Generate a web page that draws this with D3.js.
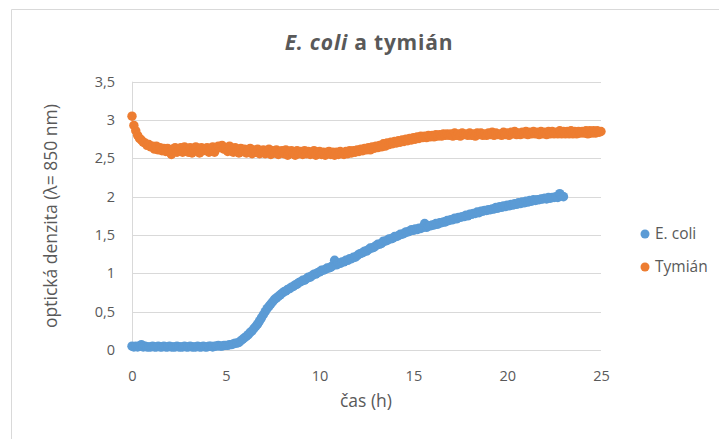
<!DOCTYPE html>
<html><head><meta charset="utf-8">
<script src="https://cdn.jsdelivr.net/npm/d3@7"></script>
<style>body{margin:0;background:#fff}svg{display:block}</style>
</head><body>
<script>
// ---- data ----
const title = ["E. coli", " a tymián"];
const xLabel = "čas (h)";
const yLabel = "optická denzita (λ= 850 nm)";
const xTicks = [0, 5, 10, 15, 20, 25];
const yTicks = [0, 0.5, 1, 1.5, 2, 2.5, 3, 3.5];
const seriesNames = ["E. coli", "Tymián"];
const sampleStep = 0.1; // hours between measurements
const ecoli = [
 0.05,0.04,0.05,0.04,0.05,0.07,0.04,0.05,0.04,0.04,
 0.04,0.05,0.04,0.04,0.05,0.04,0.04,0.05,0.04,0.04,
 0.05,0.04,0.04,0.04,0.05,0.04,0.04,0.04,0.05,0.04,
 0.04,0.05,0.04,0.04,0.04,0.05,0.04,0.04,0.05,0.04,
 0.04,0.05,0.05,0.04,0.05,0.05,0.06,0.05,0.05,0.06,
 0.06,0.06,0.07,0.07,0.08,0.09,0.09,0.10,0.12,0.14,
 0.16,0.18,0.20,0.23,0.25,0.28,0.31,0.34,0.38,0.42,
 0.46,0.50,0.54,0.57,0.60,0.63,0.66,0.68,0.70,0.72,
 0.74,0.76,0.77,0.79,0.80,0.82,0.83,0.85,0.86,0.88,
 0.89,0.91,0.91,0.93,0.95,0.95,0.97,0.99,0.99,1.01,
 1.02,1.04,1.04,1.05,1.07,1.07,1.08,1.10,1.17,1.11,
 1.13,1.13,1.15,1.15,1.17,1.17,1.19,1.19,1.21,1.21,
 1.23,1.25,1.26,1.27,1.29,1.29,1.31,1.33,1.33,1.34,
 1.36,1.38,1.38,1.39,1.42,1.42,1.43,1.45,1.45,1.46,
 1.48,1.48,1.49,1.51,1.51,1.52,1.54,1.54,1.55,1.57,
 1.56,1.58,1.57,1.59,1.585,1.60,1.65,1.60,1.62,1.62,
 1.63,1.63,1.65,1.64,1.66,1.66,1.67,1.67,1.69,1.69,
 1.70,1.70,1.72,1.71,1.73,1.73,1.74,1.74,1.76,1.75,
 1.77,1.77,1.78,1.78,1.80,1.79,1.81,1.81,1.82,1.82,
 1.83,1.83,1.84,1.84,1.86,1.85,1.87,1.86,1.88,1.87,
 1.89,1.88,1.90,1.89,1.91,1.90,1.92,1.91,1.93,1.92,
 1.94,1.93,1.95,1.94,1.96,1.95,1.96,1.96,1.97,1.97,
 1.98,1.97,1.99,1.98,1.99,1.99,2.00,1.99,2.04,2.01,
 2.00
];
const tymian = [
 3.05,2.93,2.86,2.80,2.76,2.74,2.71,2.70,2.67,2.68,
 2.65,2.66,2.62,2.66,2.61,2.64,2.60,2.63,2.59,2.63,
 2.58,2.55,2.62,2.64,2.58,2.61,2.64,2.58,2.65,2.60,
 2.58,2.64,2.57,2.62,2.65,2.59,2.57,2.64,2.60,2.62,
 2.64,2.58,2.62,2.65,2.58,2.63,2.66,2.64,2.67,2.62,
 2.64,2.59,2.66,2.60,2.58,2.64,2.60,2.57,2.63,2.59,
 2.62,2.57,2.61,2.63,2.56,2.61,2.58,2.62,2.56,2.60,
 2.61,2.56,2.60,2.62,2.55,2.60,2.57,2.61,2.55,2.59,
 2.60,2.56,2.61,2.54,2.59,2.60,2.56,2.54,2.60,2.56,
 2.59,2.55,2.60,2.56,2.59,2.55,2.57,2.60,2.54,2.58,
 2.59,2.55,2.58,2.54,2.58,2.59,2.55,2.58,2.54,2.58,
 2.55,2.59,2.56,2.55,2.59,2.56,2.60,2.57,2.60,2.58,
 2.61,2.59,2.62,2.60,2.63,2.61,2.64,2.61,2.65,2.63,
 2.66,2.64,2.67,2.65,2.69,2.66,2.70,2.68,2.71,2.69,
 2.72,2.70,2.73,2.71,2.74,2.72,2.75,2.73,2.76,2.74,
 2.77,2.75,2.78,2.76,2.79,2.77,2.79,2.77,2.80,2.78,
 2.80,2.78,2.81,2.79,2.81,2.79,2.82,2.80,2.82,2.80,
 2.82,2.79,2.83,2.80,2.82,2.79,2.83,2.81,2.82,2.80,
 2.83,2.80,2.82,2.79,2.83,2.81,2.83,2.80,2.82,2.80,
 2.83,2.81,2.84,2.80,2.83,2.81,2.82,2.80,2.84,2.81,
 2.83,2.80,2.84,2.82,2.85,2.81,2.83,2.81,2.84,2.82,
 2.85,2.81,2.84,2.82,2.85,2.82,2.84,2.81,2.85,2.82,
 2.84,2.81,2.85,2.82,2.85,2.82,2.84,2.82,2.86,2.82,
 2.85,2.82,2.85,2.82,2.86,2.82,2.85,2.82,2.85,2.83,
 2.85,2.83,2.86,2.82,2.86,2.83,2.86,2.83,2.86,2.84,
 2.85
];
const colors = ["#5B9BD5", "#ED7D31"];

// ---- drawing ----
const W = 719, H = 439;
const font = "'Open Sans', sans-serif";
const textColor = "#595959";
const svg = d3.select("body").append("svg").attr("width", W).attr("height", H);

svg.append("path").attr("d", `M11.5,${H+5} L11.5,9.5 L${W+5},9.5`)
  .attr("fill", "none").attr("stroke", "#D9D9D9").attr("stroke-width", 1);

const x = d3.scaleLinear().domain([0, 25]).range([132, 601]);
const y = d3.scaleLinear().domain([0, 3.5]).range([350, 81.7]);

// gridlines
svg.append("g").selectAll("line").data(yTicks).join("line")
  .attr("x1", x(0)).attr("x2", x(25))
  .attr("y1", d => Math.round(y(d)) + 0.5).attr("y2", d => Math.round(y(d)) + 0.5)
  .attr("stroke", "#D9D9D9").attr("stroke-width", 1);
svg.append("line").attr("x1", Math.round(x(0)) + 0.5).attr("x2", Math.round(x(0)) + 0.5)
  .attr("y1", y(3.5)).attr("y2", y(0)).attr("stroke", "#D9D9D9");

// axes labels via d3 axes
const fmt = d => String(d).replace(".", ",");
const yAxis = svg.append("g").attr("transform", "translate(132,0)")
  .call(d3.axisLeft(y).tickValues(yTicks).tickFormat(fmt).tickSize(0).tickPadding(17));
const xAxis = svg.append("g").attr("transform", "translate(0,357)")
  .call(d3.axisBottom(x).tickValues(xTicks).tickFormat(fmt).tickSize(0).tickPadding(14));
[yAxis, xAxis].forEach(g => {
  g.select(".domain").remove();
  g.selectAll("text").attr("fill", textColor).style("font-family", font).style("font-size", "14.5px");
});

// points
const series = [ecoli, tymian];
series.forEach((vals, si) => {
  svg.append("g").selectAll("circle").data(vals).join("circle")
    .attr("cx", (d, i) => x(i * sampleStep))
    .attr("cy", d => y(d))
    .attr("r", 4.7)
    .attr("fill", colors[si]);
});

// title
const t = svg.append("text").attr("x", 369).attr("y", 50).attr("text-anchor", "middle")
  .attr("fill", textColor).style("font-family", font).style("font-size", "21px")
  .style("font-weight", "bold").style("letter-spacing", "0.8px");
t.append("tspan").style("font-style", "italic").text(title[0]);
t.append("tspan").text(title[1]);

// axis titles
svg.append("text").attr("x", 366).attr("y", 407).attr("text-anchor", "middle")
  .attr("fill", textColor).style("font-family", font).style("font-size", "17.5px").text(xLabel);
svg.append("text").attr("transform", "translate(57,216) rotate(-90)").attr("text-anchor", "middle")
  .attr("fill", textColor).style("font-family", font).style("font-size", "17.5px").text(yLabel);

// legend
seriesNames.forEach((n, i) => {
  const ly = 234 + i * 33;
  svg.append("circle").attr("cx", 645).attr("cy", ly).attr("r", 4.5).attr("fill", colors[i]);
  svg.append("text").attr("x", 655).attr("y", ly + 5).attr("fill", textColor)
    .style("font-family", font).style("font-size", "15.5px").text(n);
});
</script>
</body></html>
